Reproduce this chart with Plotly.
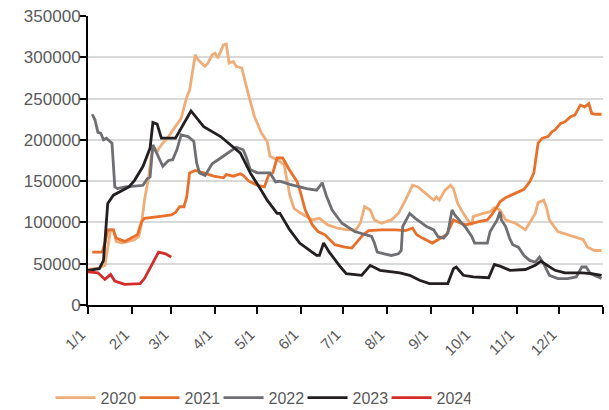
import plotly.graph_objects as go

# month-day of each reading (drawn on a common year axis) and values
d2020 = ["01-01", "01-09", "01-13", "01-15", "01-17", "01-19", "01-21", "01-25", "01-30", "02-03",
         "02-06", "02-08", "02-10", "02-13", "02-15", "02-17", "02-19", "02-22", "02-27", "03-04",
         "03-08", "03-12", "03-14", "03-18", "03-20", "03-23", "03-25", "03-27", "03-30", "04-01",
         "04-03", "04-07", "04-09", "04-11", "04-14", "04-16", "04-20", "04-25", "04-29", "05-04",
         "05-08", "05-10", "05-15", "05-20", "05-24", "05-27", "05-31", "06-09", "06-14", "06-20",
         "06-27", "07-04", "07-10", "07-13", "07-16", "07-20", "07-23", "07-28", "08-01", "08-04",
         "08-09", "08-14", "08-19", "08-23", "08-27", "08-31", "09-03", "09-05", "09-07", "09-11",
         "09-15", "09-17", "09-20", "09-24", "09-27", "09-30", "10-01", "10-08", "10-13", "10-16",
         "10-20", "10-24", "10-31", "11-07", "11-10", "11-14", "11-16", "11-20", "11-22", "11-24",
         "11-30", "12-10", "12-18", "12-21", "12-26", "12-31"]
v2020 = [43000, 45000, 48000, 70000, 91000, 91000, 77000, 75000, 77000, 79000,
         83000, 99000, 127000, 155000, 182000, 190000, 186000, 194000, 204000, 216000,
         226000, 252000, 260000, 303000, 297000, 292000, 289000, 293000, 303000, 305000,
         299000, 315000, 316000, 293000, 295000, 289000, 287000, 253000, 228000, 208000,
         198000, 180000, 176000, 170000, 133000, 117000, 112000, 103000, 105000, 97000,
         93000, 91000, 91000, 99000, 119000, 115000, 103000, 99000, 101000, 103000,
         111000, 127000, 145000, 143000, 137000, 131000, 127000, 131000, 127000, 139000,
         145000, 141000, 123000, 111000, 103000, 97000, 107000, 111000, 113000, 118000,
         115000, 103000, 99000, 91000, 99000, 111000, 124000, 127000, 118000, 103000,
         89000, 83000, 79000, 70000, 66000, 66000]

d2021 = ["01-04", "01-11", "01-13", "01-15", "01-19", "01-21", "01-27", "02-01", "02-05", "02-08",
         "02-10", "02-20", "03-01", "03-04", "03-07", "03-10", "03-12", "03-14", "03-18", "03-24",
         "03-31", "04-07", "04-09", "04-14", "04-19", "04-21", "04-25", "05-01", "05-06", "05-09",
         "05-12", "05-15", "05-19", "05-24", "05-29", "05-31", "06-04", "06-09", "06-13", "06-18",
         "06-23", "06-25", "07-02", "07-07", "07-10", "07-15", "07-19", "07-28", "08-07", "08-14",
         "08-19", "08-22", "08-26", "09-02", "09-06", "09-12", "09-17", "09-22", "09-26", "09-30",
         "10-05", "10-11", "10-14", "10-18", "10-20", "10-24", "10-31", "11-06", "11-10", "11-13",
         "11-16", "11-19", "11-23", "11-26", "11-28", "12-02", "12-05", "12-09", "12-12", "12-16",
         "12-19", "12-22", "12-24", "12-27", "12-31"]
v2021 = [64000, 64000, 75000, 91000, 91000, 81000, 77000, 81000, 85000, 101000,
         105000, 107000, 109000, 112000, 119000, 119000, 131000, 160000, 163000, 160000,
         156000, 154000, 158000, 156000, 159000, 157000, 150000, 145000, 143000, 157000,
         160000, 178000, 178000, 163000, 150000, 140000, 115000, 97000, 89000, 85000,
         77000, 73000, 70000, 69000, 75000, 85000, 90000, 91000, 91000, 90000,
         93000, 85000, 81000, 75000, 79000, 85000, 103000, 99000, 97000, 99000,
         101000, 103000, 109000, 119000, 125000, 130000, 135000, 140000, 149000, 160000,
         196000, 202000, 204000, 210000, 212000, 220000, 222000, 228000, 230000, 242000,
         240000, 244000, 232000, 231000, 231000]

d2022 = ["01-04", "01-06", "01-08", "01-10", "01-12", "01-14", "01-18", "01-20", "01-22", "01-27",
         "02-03", "02-09", "02-12", "02-14", "02-16", "02-19", "02-23", "02-27", "03-02", "03-05",
         "03-08", "03-13", "03-17", "03-19", "03-21", "03-25", "03-30", "04-05", "04-12", "04-16",
         "04-21", "04-23", "04-26", "05-01", "05-10", "05-14", "05-17", "05-24", "06-05", "06-12",
         "06-16", "06-19", "06-23", "06-30", "07-09", "07-21", "07-23", "07-25", "07-30", "08-04",
         "08-09", "08-11", "08-12", "08-17", "08-21", "08-24", "08-29", "09-03", "09-06", "09-10",
         "09-13", "09-16", "09-18", "09-22", "09-26", "09-30", "10-02", "10-11", "10-13", "10-18",
         "10-20", "10-21", "10-24", "10-27", "10-29", "11-02", "11-06", "11-10", "11-14", "11-17",
         "11-20", "11-24", "11-30", "12-07", "12-13", "12-17", "12-20", "12-23", "12-26", "12-31"]
v2022 = [231000, 224000, 209000, 208000, 200000, 202000, 196000, 143000, 141000, 143000,
         144000, 145000, 153000, 155000, 194000, 182000, 168000, 175000, 176000, 188000,
         206000, 204000, 198000, 172000, 160000, 157000, 171000, 178000, 186000, 191000,
         188000, 180000, 164000, 160000, 160000, 149000, 150000, 146000, 141000, 139000,
         148000, 132000, 115000, 99000, 89000, 83000, 75000, 64000, 62000, 60000,
         62000, 66000, 95000, 111000, 105000, 101000, 95000, 91000, 83000, 81000,
         87000, 115000, 109000, 101000, 93000, 83000, 75000, 75000, 89000, 103000,
         113000, 103000, 95000, 80000, 73000, 70000, 60000, 54000, 52000, 58000,
         50000, 36000, 32000, 32000, 34000, 46000, 46000, 38000, 36000, 32000]

d2023 = ["01-01", "01-09", "01-12", "01-15", "01-19", "01-30", "02-03", "02-09", "02-14", "02-16",
         "02-19", "02-22", "03-04", "03-10", "03-15", "03-24", "04-05", "04-19", "04-26", "05-03",
         "05-08", "05-15", "05-17", "05-24", "05-31", "06-12", "06-14", "06-17", "06-21", "06-29",
         "07-03", "07-14", "07-20", "07-27", "08-10", "08-17", "08-24", "08-31", "09-13", "09-17",
         "09-19", "09-24", "10-01", "10-12", "10-16", "10-20", "10-27", "11-07", "11-14", "11-18",
         "11-23", "11-28", "12-05", "12-17", "12-24", "12-31"]
v2023 = [42000, 44000, 54000, 123000, 133000, 143000, 151000, 168000, 190000, 221000,
         219000, 202000, 202000, 220000, 235000, 216000, 204000, 184000, 160000, 141000,
         127000, 111000, 111000, 91000, 75000, 60000, 60000, 75000, 64000, 46000,
         38000, 36000, 48000, 42000, 39000, 36000, 30000, 26000, 26000, 44000,
         46000, 36000, 34000, 33000, 49000, 47000, 42000, 43000, 48000, 53000,
         48000, 42000, 39000, 39000, 38000, 36000]

d2024 = ["01-01", "01-08", "01-13", "01-17", "01-20", "01-27", "02-07", "02-10", "02-20", "02-25", "03-01"]
v2024 = [40000, 39000, 31000, 37000, 29000, 25000, 26000, 32000, 64000, 62000, 58000]

series = [
    ("2020", d2020, v2020, "#F0AD78"),
    ("2021", d2021, v2021, "#E8702A"),
    ("2022", d2022, v2022, "#6E6E73"),
    ("2023", d2023, v2023, "#231F20"),
    ("2024", d2024, v2024, "#D42B2B"),
]

month_ticks = ["2023-%02d-01" % m for m in range(1, 13)] + ["2024-01-01"]
month_text = ["%d/1" % m for m in range(1, 13)] + [""]

fig = go.Figure()

for name, days, vals, color in series:
    fig.add_trace(
        go.Scatter(x = ["2023-" + d for d in days],
                   y = vals,
                   name = name,
                   mode = "lines",
                   line = dict(color = color, width = 2.8)))

fig.update_layout(width = 609,
                  height = 410,
                  margin = dict(l = 88, r = 6, t = 16, b = 105),
                  plot_bgcolor = "white",
                  paper_bgcolor = "white",
                  font = dict(family = "Liberation Sans", color = "#595959"),
                  legend = dict(orientation = "h",
                                xref = "container",
                                yref = "container",
                                x = 0.083,
                                xanchor = "left",
                                y = 0.03,
                                yanchor = "middle",
                                font = dict(size = 16, color = "#595959"),
                                itemwidth = 40,
                                entrywidth = 29,
                                entrywidthmode = "pixels"),
                  xaxis = dict(type = "date",
                               range = ["2023-01-01", "2024-01-01"],
                               tickvals = month_ticks,
                               ticktext = month_text,
                               tickangle = -45,
                               tickfont = dict(size = 15, color = "#595959"),
                               ticks = "outside",
                               ticklen = 7,
                               tickwidth = 2,
                               tickcolor = "black",
                               ticklabelstandoff = 6,
                               ticklabelshift = -7,
                               showline = True,
                               linecolor = "black",
                               linewidth = 2,
                               showgrid = False,
                               zeroline = False,
                               automargin = False),
                  yaxis = dict(range = [0, 350000],
                               tickvals = [0, 50000, 100000, 150000, 200000, 250000, 300000, 350000],
                               tickformat = "d",
                               tickfont = dict(size = 17, color = "#595959"),
                               ticks = "outside",
                               ticklen = 7,
                               tickwidth = 2,
                               tickcolor = "black",
                               ticklabelstandoff = -5,
                               showline = True,
                               linecolor = "black",
                               linewidth = 2,
                               showgrid = True,
                               gridcolor = "#D9D9D9",
                               gridwidth = 1.5,
                               zeroline = False,
                               automargin = False))

# drop the page's default body margin so the figure sits at the window corner
fig.write_html("out.html",
               config = dict(displayModeBar = False),
               post_script = "document.body.style.margin = '0';")
